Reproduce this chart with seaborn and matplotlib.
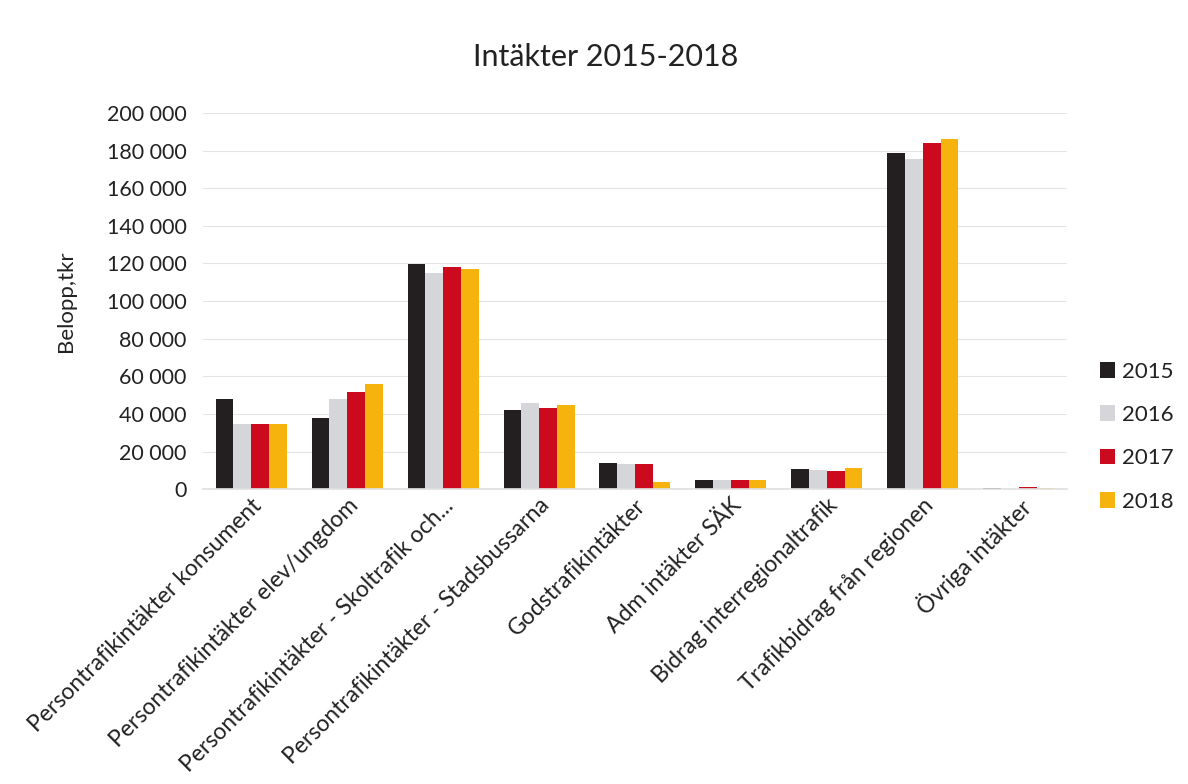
import matplotlib
matplotlib.use("Agg")
import matplotlib.pyplot as plt
import seaborn as sns
import pandas as pd
from matplotlib.ticker import FuncFormatter

categories = [
    "Persontrafikintäkter konsument",
    "Persontrafikintäkter elev/ungdom",
    "Persontrafikintäkter - Skoltrafik och...",
    "Persontrafikintäkter - Stadsbussarna",
    "Godstrafikintäkter",
    "Adm intäkter SÄK",
    "Bidrag interregionaltrafik",
    "Trafikbidrag från regionen",
    "Övriga intäkter",
]
years = ["2015", "2016", "2017", "2018"]
v2015 = [48000, 37800, 119700, 42000, 13800, 5000, 10600, 178700, 600]
v2016 = [34500, 48000, 115000, 46000, 13500, 4800, 10000, 175500, 200]
v2017 = [34500, 51600, 118000, 43000, 13300, 5000, 9700, 184000, 1000]
v2018 = [34500, 55900, 117000, 44700, 3700, 4900, 11200, 186000, 800]
colors = ["#231f20", "#d6d6da", "#cc0a1e", "#f6b30e"]

rows = []
for y, vals in zip(years, [v2015, v2016, v2017, v2018]):
    for c, v in zip(categories, vals):
        rows.append({"cat": c, "year": y, "val": v})
df = pd.DataFrame(rows)

sns.set_theme(style="white")
plt.rcParams["font.family"] = ["Lato", "DejaVu Sans"]

fig = plt.figure(figsize=(11.88, 7.84), dpi=100)
ax = fig.add_axes([0.171, 0.376, 0.727, 0.480])
sns.barplot(data=df, x="cat", y="val", hue="year", palette=colors,
            order=categories, hue_order=years, width=0.74, ax=ax,
            saturation=1, linewidth=0, errorbar=None)

ax.set_ylim(0, 200000)
ax.set_yticks(range(0, 200001, 20000))
ax.yaxis.set_major_formatter(FuncFormatter(lambda v, p: f"{int(v):,}".replace(",", " ")))
ax.grid(axis="y", color="#e4e4e4", linewidth=0.8)
ax.set_axisbelow(True)
for s in ["top", "right", "left"]:
    ax.spines[s].set_visible(False)
ax.spines["bottom"].set_color("#e0e0e0")
ax.tick_params(axis="y", labelsize=15.5, colors="#222222", length=0, pad=12)
ax.tick_params(axis="x", labelsize=16.5, colors="#222222", length=0, pad=4)
ax.set_xticks(range(len(categories)))
ax.set_xticklabels(categories, rotation=45, ha="right", rotation_mode="anchor")
ax.set_xlabel("")
ax.set_ylabel("Belopp,tkr", fontsize=16, color="#222222", labelpad=22)
ax.set_xlim(-0.5, len(categories) - 0.5)

fig.text(0.51, 0.927, "Intäkter 2015-2018", ha="center", va="center",
         fontsize=22, color="#222222")

leg = ax.legend(loc="center left", bbox_to_anchor=(1.015, 0.14), frameon=False,
                fontsize=16, labelspacing=1.05, handlelength=0.7,
                handleheight=0.7, handletextpad=0.3)
for t in leg.get_texts():
    t.set_color("#222222")

fig.savefig("out.png", dpi=100, facecolor="white")
